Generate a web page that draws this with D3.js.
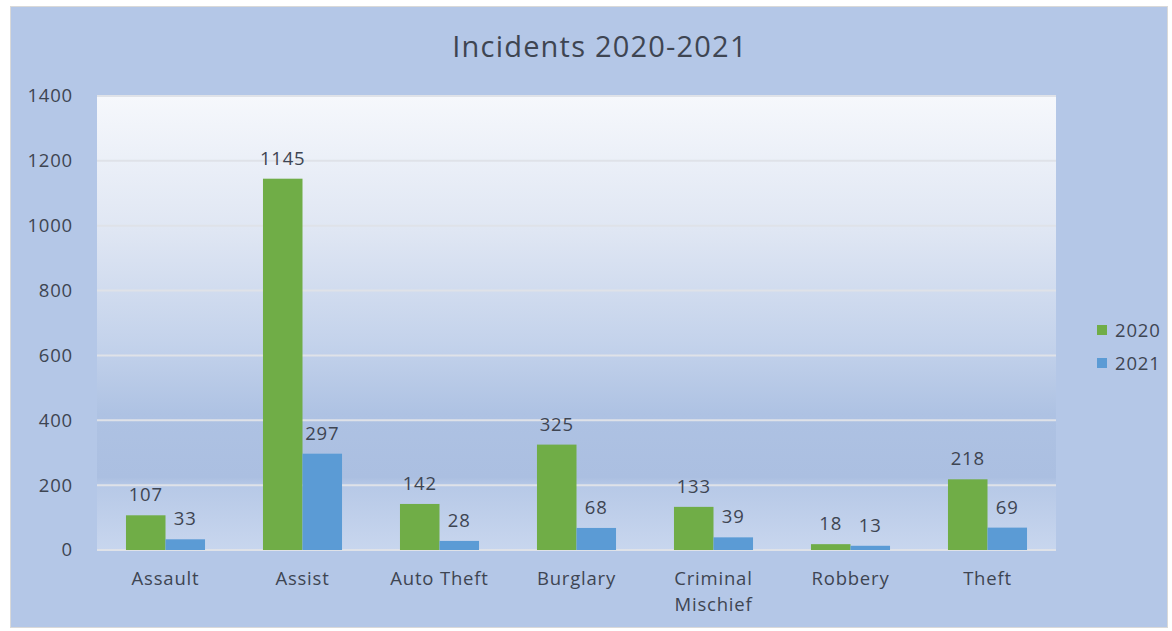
<!DOCTYPE html>
<meta charset="utf-8" />
<script src="https://d3js.org/d3.v7.min.js"></script>
<style>
  body { margin: 0; background: #fff; }
  text { font-family: "Open Sans", sans-serif; letter-spacing: 0.8px; }
</style>
<div id="chart"></div>
<script>
  // data
  const categories = ["Assault", "Assist", "Auto Theft", "Burglary", "Criminal Mischief", "Robbery", "Theft"];
  const series = ["2020", "2021"];
  const values2020 = [107, 1145, 142, 325, 133, 18, 218];
  const values2021 = [33, 297, 28, 68, 39, 13, 69];
  const yTicks = [0, 200, 400, 600, 800, 1000, 1200, 1400];

  const W = 1172, H = 631;
  const plot = { left: 97, right: 1056, top: 96, bottom: 550 };
  const colors = { "2020": "#70ad47", "2021": "#5b9bd5" };
  const textColor = "#3e4552";
  const fs = "18.5px";

  const svg = d3.select("#chart").append("svg")
    .attr("width", W)
    .attr("height", H);

  const defs = svg.append("defs");
  const grad = defs.append("linearGradient")
    .attr("id", "plotGrad")
    .attr("x1", 0).attr("y1", 0).attr("x2", 0).attr("y2", 1);
  [
    [0, "#f6f8fc"],
    [0.3, "#dfe6f3"],
    [0.55, "#c3d2eb"],
    [0.7, "#aec2e3"],
    [0.84, "#abbfe1"],
    [0.86, "#b7c9e7"],
    [1, "#c8d6ee"]
  ].forEach(function (s) {
    grad.append("stop").attr("offset", s[0]).attr("stop-color", s[1]);
  });

  // outer chart area
  svg.append("rect")
    .attr("x", 10.5).attr("y", 6.5)
    .attr("width", W - 15).attr("height", H - 10)
    .attr("fill", "#b4c7e7")
    .attr("stroke", "#d9d9d9");

  const x0 = d3.scaleBand()
    .domain(categories)
    .range([plot.left, plot.right])
    .paddingInner(0.423)
    .paddingOuter(0.2115);
  const x1 = d3.scaleBand()
    .domain(series)
    .range([0, x0.bandwidth()]);
  const y = d3.scaleLinear()
    .domain([0, 1400])
    .range([plot.bottom, plot.top]);

  // plot area
  svg.append("rect")
    .attr("x", plot.left).attr("y", plot.top)
    .attr("width", plot.right - plot.left)
    .attr("height", plot.bottom - plot.top)
    .attr("fill", "url(#plotGrad)");

  // gridlines
  svg.append("g")
    .selectAll("line")
    .data(yTicks)
    .join("line")
    .attr("x1", plot.left).attr("x2", plot.right)
    .attr("y1", (d) => y(d)).attr("y2", (d) => y(d))
    .attr("stroke", "#dfe2e8")
    .attr("stroke-width", 2);

  // y axis labels
  const yAxis = svg.append("g")
    .attr("transform", `translate(${plot.left},0)`)
    .call(d3.axisLeft(y).tickValues(yTicks).tickFormat(d3.format("d")).tickSize(0).tickPadding(24));
  yAxis.select(".domain").remove();
  yAxis.selectAll("text")
    .style("font-size", fs)
    .style("font-family", "'Open Sans', sans-serif")
    .attr("fill", textColor);

  // bars
  const rows = categories.map(function (c, i) {
    return { cat: c, vals: [
      { s: "2020", v: values2020[i] },
      { s: "2021", v: values2021[i] }
    ] };
  });

  const groups = svg.append("g")
    .selectAll("g")
    .data(rows)
    .join("g")
    .attr("transform", (d) => `translate(${x0(d.cat)},0)`);

  groups.selectAll("rect")
    .data((d) => d.vals)
    .join("rect")
    .attr("x", (d) => x1(d.s))
    .attr("width", x1.bandwidth())
    .attr("y", (d) => y(d.v))
    .attr("height", (d) => y(0) - y(d.v))
    .attr("fill", (d) => colors[d.s]);

  // value labels above the bars
  groups.selectAll("text")
    .data((d) => d.vals)
    .join("text")
    .attr("x", (d) => x1(d.s) + x1.bandwidth() / 2)
    .attr("y", (d) => y(d.v) - 14)
    .attr("text-anchor", "middle")
    .style("font-size", fs)
    .attr("fill", textColor)
    .text((d) => d.v);

  // category labels
  const xLabels = svg.append("g")
    .selectAll("text")
    .data(categories)
    .join("text")
    .attr("x", (d) => x0(d) + x0.bandwidth() / 2)
    .attr("y", 585)
    .attr("text-anchor", "middle")
    .style("font-size", fs)
    .attr("fill", textColor);
  xLabels.each(function (d) {
    const words = d === "Criminal Mischief" ? ["Criminal", "Mischief"] : [d];
    const t = d3.select(this);
    words.forEach(function (w, i) {
      t.append("tspan")
        .attr("x", x0(d) + x0.bandwidth() / 2)
        .attr("dy", i === 0 ? 0 : 26)
        .text(w);
    });
  });

  // title
  svg.append("text")
    .attr("x", 600)
    .attr("y", 57)
    .attr("text-anchor", "middle")
    .style("font-size", "29px")
    .style("letter-spacing", "1.2px")
    .attr("fill", textColor)
    .text("Incidents 2020-2021");

  // legend
  const legend = svg.append("g")
    .selectAll("g")
    .data(series)
    .join("g")
    .attr("transform", (d, i) => `translate(1097,${325 + i * 33})`);
  legend.append("rect")
    .attr("width", 10).attr("height", 10)
    .attr("fill", (d) => colors[d]);
  legend.append("text")
    .attr("x", 18)
    .attr("y", 12)
    .style("font-size", fs)
    .attr("fill", textColor)
    .text((d) => d);
</script>
